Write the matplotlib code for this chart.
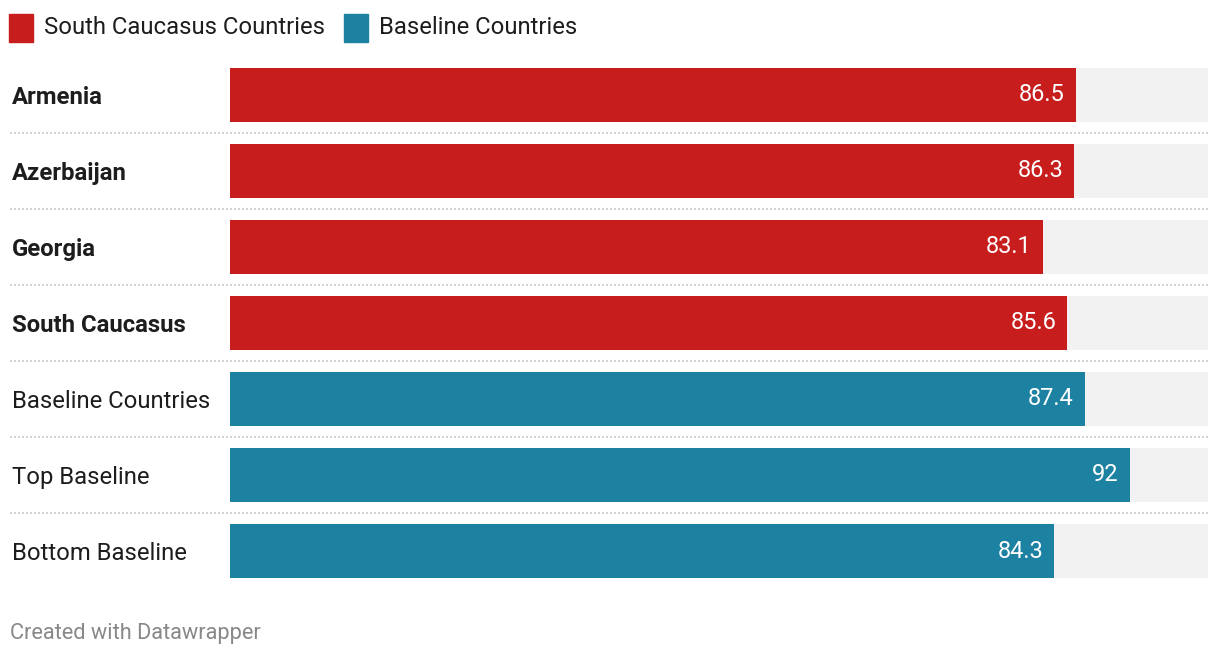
import matplotlib
matplotlib.use("Agg")
import matplotlib.pyplot as plt
from matplotlib.patches import Rectangle
import matplotlib.transforms as mtransforms

categories = ["Armenia", "Azerbaijan", "Georgia", "South Caucasus",
              "Baseline Countries", "Top Baseline", "Bottom Baseline"]
values = [86.5, 86.3, 83.1, 85.6, 87.4, 92, 84.3]
groups = ["South Caucasus Countries"] * 4 + ["Baseline Countries"] * 3
bold = [True, True, True, True, False, False, False]
value_labels = ["86.5", "86.3", "83.1", "85.6", "87.4", "92", "84.3"]
legend_labels = ["South Caucasus Countries", "Baseline Countries"]
colors = {"South Caucasus Countries": "#c71e1d", "Baseline Countries": "#1d81a2"}
max_value = 100
footer = "Created with Datawrapper"

plt.rcParams['font.family'] = ['Roboto', 'DejaVu Sans']

W, H = 1220, 656
fig = plt.figure(figsize=(W / 100, H / 100), dpi=100)
fig.patch.set_facecolor("white")

left_px, right_px = 230, 1208
top_px, bottom_px = 57, 589
ax = fig.add_axes([left_px / W, 1 - bottom_px / H, (right_px - left_px) / W, (bottom_px - top_px) / H])
n = len(categories)
ax.set_xlim(0, max_value)
ax.set_ylim(n - 0.5, -0.5)
ax.axis("off")

bh = 54 / 76
ys = list(range(n))
ax.barh(ys, [max_value] * n, height=bh, color="#f2f2f2", zorder=1)
ax.barh(ys, values, height=bh, color=[colors[g] for g in groups], zorder=2)

val_trans = mtransforms.offset_copy(ax.transData, fig=fig, x=-11, y=0, units='dots')
for y, v, lab in zip(ys, values, value_labels):
    ax.text(v, y, lab, transform=val_trans,
            ha="right", va="center", color="white", fontsize=17, zorder=3)

lab_trans = mtransforms.offset_copy(
    mtransforms.blended_transform_factory(fig.transFigure, ax.transData),
    fig=fig, x=0, y=-3, units='dots')
for y, c, b in zip(ys, categories, bold):
    ax.text(12 / W, y, c, transform=lab_trans, ha="left", va="center",
            fontsize=17.2, fontweight="bold" if b else "normal", color="#1d1d1d", clip_on=False)

xmin = (10 - left_px) / (right_px - left_px)
for y in ys[:-1]:
    ax.axhline(y + 0.5, xmin=xmin, xmax=1, color="#cccccc", lw=1.2,
               linestyle=(0, (1.2, 1.2)), clip_on=False, zorder=0)

sq_w, sq_h = 24, 28
x = 9
for lab in legend_labels:
    fig.patches.append(Rectangle((x / W, 1 - 42 / H), sq_w / W, sq_h / H,
                                 transform=fig.transFigure, color=colors[lab]))
    t = fig.text((x + 35) / W, 1 - 27 / H, lab, ha="left", va="center", fontsize=17.2, color="#1d1d1d")
    fig.canvas.draw()
    bb = t.get_window_extent()
    x = bb.x1 + 19

fig.text(10 / W, 1 - 633 / H, footer, ha="left", va="center", fontsize=15.7, color="#888888")

fig.savefig("out.png", dpi=100, facecolor="white")
